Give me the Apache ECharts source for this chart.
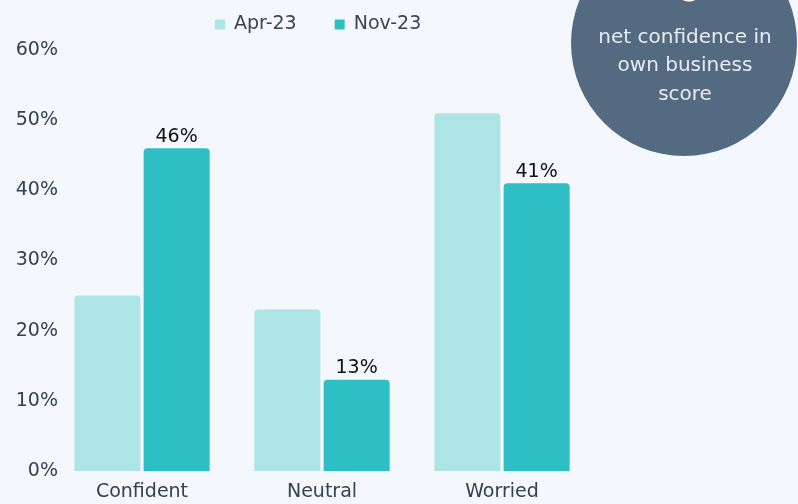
<!DOCTYPE html>
<html>
<head>
<meta charset="utf-8">
<script src="https://cdn.jsdelivr.net/npm/echarts@6/dist/echarts.min.js"></script>
<style>
html,body{margin:0;padding:0;background:#f4f7fc;}
#c{width:798px;height:504px;}
</style>
</head>
<body>
<div id="c"></div>
<script>
const categories = ['Confident', 'Neutral', 'Worried'];
const seriesNames = ['Apr-23', 'Nov-23'];
const apr23 = [25, 23, 51];
const nov23 = [46, 13, 41];
const circleLines = ['net confidence in', 'own business', 'score'];

const FONT = 'DejaVu Sans';
const FS = 19;
const chart = echarts.init(document.getElementById('c'));
chart.setOption({
  backgroundColor: '#f4f7fc',
  textStyle: { fontFamily: FONT },
  legend: {
    top: 10, left: 210,
    icon: 'rect', itemWidth: 10, itemHeight: 10, itemGap: 38,
    textStyle: { fontSize: FS, color: '#3a4550', fontFamily: FONT, padding: [0, 0, 0, 4] },
    data: seriesNames
  },
  grid: { left: 52, right: 206, top: 50, bottom: 33, containLabel: false },
  xAxis: {
    type: 'category', data: categories,
    axisLine: { show: false }, axisTick: { show: false },
    axisLabel: { fontSize: FS, color: '#36414c', margin: 12, fontFamily: FONT }
  },
  yAxis: {
    type: 'value', min: 0, max: 60, interval: 10,
    splitLine: { show: false }, axisLine: { show: false }, axisTick: { show: false },
    axisLabel: { formatter: '{value}%', fontSize: FS, color: '#36414c', margin: -6, fontFamily: FONT }
  },
  series: [
    {
      name: seriesNames[0], type: 'bar', data: apr23,
      barWidth: 66, barGap: '5%',
      itemStyle: { color: '#ade5e7', borderRadius: [4, 4, 0, 0] }
    },
    {
      name: seriesNames[1], type: 'bar', data: nov23,
      barWidth: 66, barGap: '5%',
      itemStyle: { color: '#2ebfc4', borderRadius: [4, 4, 0, 0] },
      label: { show: true, position: 'top', distance: 2, formatter: '{c}%', fontSize: FS, color: '#111', fontFamily: FONT }
    }
  ],
  graphic: [
    { type: 'circle', shape: { cx: 684, cy: 43, r: 113 }, style: { fill: '#546a80' }, z: 10 },
    { type: 'text', x: 689, y: -9, style: { text: '0', font: 'bold 40px ' + FONT, fill: '#ffffff', align: 'center', verticalAlign: 'middle' }, z: 11 },
    { type: 'text', x: 685, y: 38, style: { text: circleLines[0], font: '20px ' + FONT, fill: '#e6ecf2', align: 'center', verticalAlign: 'middle' }, z: 11 },
    { type: 'text', x: 685, y: 66, style: { text: circleLines[1], font: '20px ' + FONT, fill: '#e6ecf2', align: 'center', verticalAlign: 'middle' }, z: 11 },
    { type: 'text', x: 685, y: 95, style: { text: circleLines[2], font: '20px ' + FONT, fill: '#e6ecf2', align: 'center', verticalAlign: 'middle' }, z: 11 }
  ]
});
</script>
</body>
</html>
